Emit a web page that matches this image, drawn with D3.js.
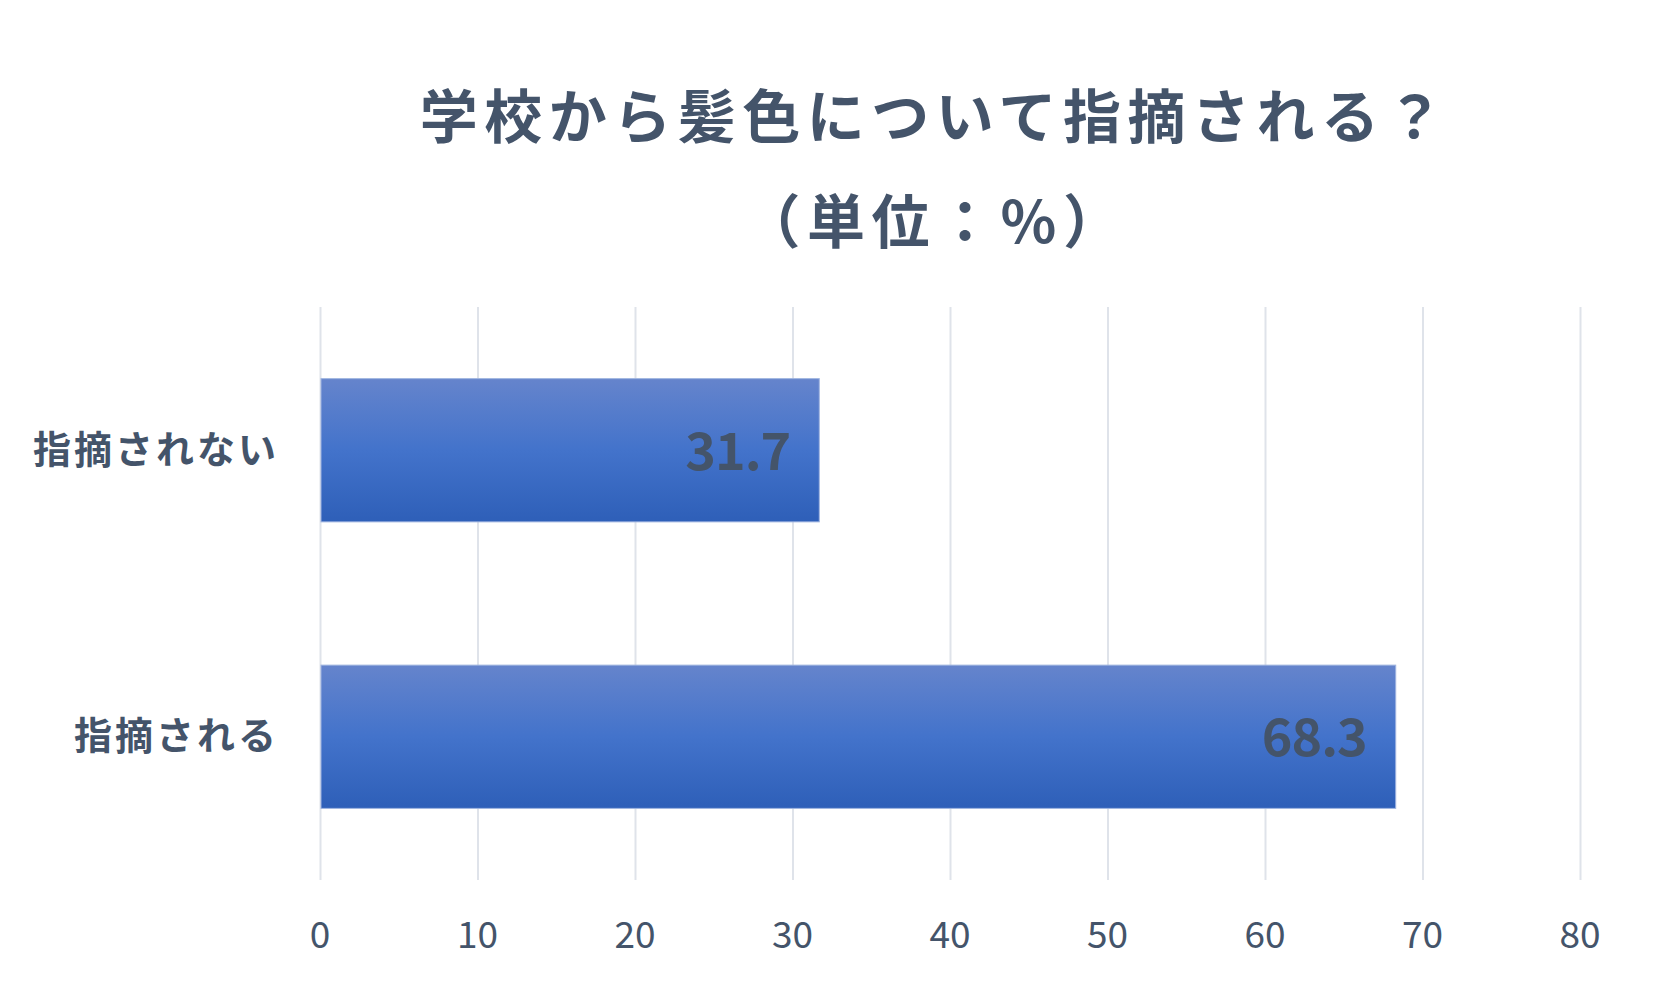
<!DOCTYPE html>
<html>
<head>
    <meta charset="utf-8">
    <title>学校から髪色について指摘される？</title>
    <script src="https://cdn.jsdelivr.net/npm/d3@7"></script>
    <style>
        body { margin: 0; background: #fff; }
        svg text { font-family: "Noto Sans CJK JP", "Noto Sans", sans-serif; fill: #44546a; }
        .grid line { stroke: #dfe3ea; stroke-width: 2px; }
        .grid path { display: none; }
    </style>
</head>
<body>
    <div id="chart"></div>
    <script>
        // chart data
        var categories = ["指摘されない", "指摘される"];
        var values = [31.7, 68.3];
        var xTicks = [0, 10, 20, 30, 40, 50, 60, 70, 80];
        var titleLines = ["学校から髪色について指摘される？", "（単位：%）"];

        var width = 1659, height = 999;
        var margin = { left: 320, right: 79, top: 307, bottom: 119 };

        var svg = d3.select("#chart").append("svg")
            .attr("width", width)
            .attr("height", height);

        // gradient for bars
        var grad = svg.append("defs").append("linearGradient")
            .attr("id", "barGrad")
            .attr("x1", 0).attr("y1", 0).attr("x2", 0).attr("y2", 1);
        grad.append("stop").attr("offset", "0%").attr("stop-color", "#6584cc");
        grad.append("stop").attr("offset", "50%").attr("stop-color", "#4373cb");
        grad.append("stop").attr("offset", "100%").attr("stop-color", "#2e5fb8");

        var x = d3.scaleLinear()
            .domain([0, 80])
            .range([margin.left, width - margin.right]);

        var y = d3.scaleBand()
            .domain(categories)
            .range([margin.top, height - margin.bottom])
            .paddingInner(0.5)
            .paddingOuter(0.25);

        // vertical gridlines
        svg.append("g")
            .attr("class", "grid")
            .attr("transform", "translate(0," + (height - margin.bottom) + ")")
            .call(d3.axisBottom(x).tickValues(xTicks).tickSize(-(height - margin.bottom - margin.top)).tickFormat(""));

        // tick labels
        svg.selectAll(".tick-label")
            .data(xTicks)
            .enter().append("text")
            .attr("class", "tick-label")
            .attr("x", d => x(d))
            .attr("y", 932)
            .attr("text-anchor", "middle")
            .attr("dominant-baseline", "central")
            .style("font-size", "37px")
            .text(d => d);

        // bars
        svg.selectAll(".bar")
            .data(values)
            .enter().append("rect")
            .attr("class", "bar")
            .attr("x", x(0) + 1)
            .attr("y", (d, i) => y(categories[i]))
            .attr("width", d => x(d) - x(0) - 1)
            .attr("height", y.bandwidth())
            .attr("fill", "url(#barGrad)")
            .attr("stroke", "#9fb4e0")
            .attr("stroke-width", 1);

        // value labels
        svg.selectAll(".val")
            .data(values)
            .enter().append("text")
            .attr("class", "val")
            .attr("x", d => x(d) - 29)
            .attr("y", (d, i) => y(categories[i]) + y.bandwidth() / 2 - 3)
            .attr("text-anchor", "end")
            .attr("dominant-baseline", "central")
            .style("font-size", "52px")
            .style("font-weight", "bold")
            .style("letter-spacing", "-1px")
            .text(d => d.toFixed(1));

        // category labels
        svg.selectAll(".cat")
            .data(categories)
            .enter().append("text")
            .attr("class", "cat")
            .attr("x", 279)
            .attr("y", d => y(d) + y.bandwidth() / 2 - 4)
            .attr("text-anchor", "end")
            .attr("dominant-baseline", "central")
            .style("font-size", "38px")
            .style("font-weight", "bold")
            .style("letter-spacing", "3px")
            .text(d => d);

        // title
        svg.selectAll(".title")
            .data(titleLines)
            .enter().append("text")
            .attr("class", "title")
            .attr("x", 935)
            .attr("y", (d, i) => i === 0 ? 113 : 218)
            .attr("text-anchor", "middle")
            .attr("dominant-baseline", "central")
            .style("font-size", "58px")
            .style("font-weight", "bold")
            .style("letter-spacing", "6.5px")
            .text(d => d);
    </script>
</body>
</html>
